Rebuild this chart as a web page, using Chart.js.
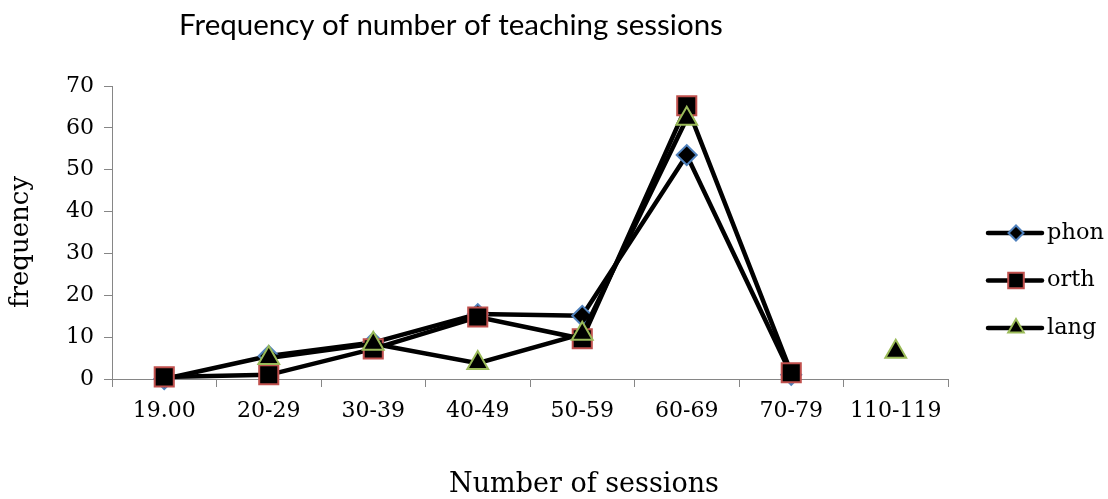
<!DOCTYPE html>
<html lang="en">
<head>
<meta charset="UTF-8">
<title>Frequency of number of teaching sessions</title>
<script src="https://cdn.jsdelivr.net/npm/chart.js@4.4.0/dist/chart.umd.min.js"></script>
<style>
  html, body { margin: 0; padding: 0; background: #fff; }
  #wrap { position: relative; width: 1108px; height: 499px; }
</style>
</head>
<body>
<div id="wrap"><canvas id="chart"></canvas></div>
<script>
// Values
const categories = ['19.00', '20-29', '30-39', '40-49', '50-59', '60-69', '70-79', '110-119'];
const phon = [0, 5.5, 8.7, 15.5, 15.1, 53.5, 1, null];
const orth = [0.5, 1, 7.2, 14.8, 9.6, 65.3, 1.5, null];
const lang = [null, 5, 8.4, 3.8, 10.8, 62.2, null, 6.5];
const seriesNames = ['phon', 'orth', 'lang'];
const yMin = 0, yMax = 70, yStep = 10;

const chartTitle = 'Frequency of number of teaching sessions';
const xTitle = 'Number of sessions';
const yTitle = 'frequency';

const SERIF = '"DejaVu Serif", serif';
const AXIS = '#868686';
const markerColors = ['#4F81BD', '#C0504D', '#9BBB59'];
const markerStyles = ['rectRot', 'rect', 'triangle'];
const markerSizes = [10, 13.5, 12];

function series(i, data) {
  return {
    label: seriesNames[i],
    data: data,
    borderColor: '#000',
    borderWidth: 4.5,
    tension: 0,
    spanGaps: false,
    clip: false,
    order: 2 - i,
    pointStyle: markerStyles[i],
    pointRadius: markerSizes[i],
    pointHoverRadius: markerSizes[i],
    pointBackgroundColor: '#000',
    pointBorderColor: markerColors[i],
    pointBorderWidth: 2
  };
}

// small legend marker shapes
function drawMarker(ctx, style, x, y, r, color) {
  ctx.beginPath();
  if (style === 'rectRot') {
    ctx.moveTo(x - r, y); ctx.lineTo(x, y - r); ctx.lineTo(x + r, y); ctx.lineTo(x, y + r);
  } else if (style === 'rect') {
    const s = r * Math.SQRT1_2;
    ctx.rect(x - s, y - s, 2 * s, 2 * s);
  } else {
    const h = Math.sqrt(3) / 2 * r;
    ctx.moveTo(x, y - r); ctx.lineTo(x + h, y + r / 2); ctx.lineTo(x - h, y + r / 2);
  }
  ctx.closePath();
  ctx.fillStyle = '#000';
  ctx.fill();
  ctx.lineWidth = 2;
  ctx.strokeStyle = color;
  ctx.stroke();
}

const decorations = {
  id: 'decorations',
  afterDraw(chart) {
    const ctx = chart.ctx;
    ctx.save();
    ctx.fillStyle = '#000';
    ctx.textAlign = 'center';
    ctx.textBaseline = 'alphabetic';
    ctx.font = '29.5px Lato';
    ctx.fillText(chartTitle, 451, 35);
    ctx.textBaseline = 'middle';
    ctx.font = '27px ' + SERIF;
    ctx.fillText(xTitle, 584, 485);
    ctx.save();
    ctx.translate(21, 242);
    ctx.rotate(-Math.PI / 2);
    ctx.font = '26px ' + SERIF;
    ctx.fillText(yTitle, 0, 0);
    ctx.restore();

    // legend
    const legendSizes = [7.5, 11, 9];
    seriesNames.forEach((name, i) => {
      const y = 233 + i * 47.5;
      ctx.beginPath();
      ctx.lineCap = 'round';
      ctx.lineWidth = 4.5;
      ctx.strokeStyle = '#000';
      ctx.moveTo(988, y);
      ctx.lineTo(1042, y);
      ctx.stroke();
      drawMarker(ctx, markerStyles[i], 1016, y, legendSizes[i], markerColors[i]);
      ctx.fillStyle = '#000';
      ctx.textAlign = 'left';
      ctx.font = '22.5px ' + SERIF;
      ctx.fillText(name, 1047, y);
    });
    ctx.restore();
  }
};

new Chart(document.getElementById('chart'), {
  type: 'line',
  data: {
    labels: categories,
    datasets: [series(0, phon), series(1, orth), series(2, lang)]
  },
  options: {
    responsive: true,
    maintainAspectRatio: false,
    animation: false,
    events: [],
    layout: { padding: { top: 86, right: 160, left: 0, bottom: 0 } },
    plugins: {
      legend: { display: false },
      title: { display: false },
      tooltip: { enabled: false }
    },
    scales: {
      x: {
        offset: true,
        afterFit: s => { s.height = 120; },
        grid: {
          offset: true,
          drawOnChartArea: false,
          drawTicks: true,
          tickLength: 8,
          color: AXIS
        },
        border: { color: AXIS, width: 1 },
        ticks: {
          color: '#000',
          padding: 11,
          maxRotation: 0,
          autoSkip: false,
          font: { family: SERIF, size: 22 }
        }
      },
      y: {
        min: yMin,
        max: yMax,
        afterFit: s => { s.width = 112; },
        grid: {
          drawOnChartArea: false,
          drawTicks: true,
          tickLength: 8,
          color: AXIS
        },
        border: { color: AXIS, width: 1 },
        ticks: {
          stepSize: yStep,
          color: '#000',
          padding: 10,
          font: { family: SERIF, size: 22 }
        }
      }
    }
  },
  plugins: [decorations]
});
</script>
</body>
</html>
